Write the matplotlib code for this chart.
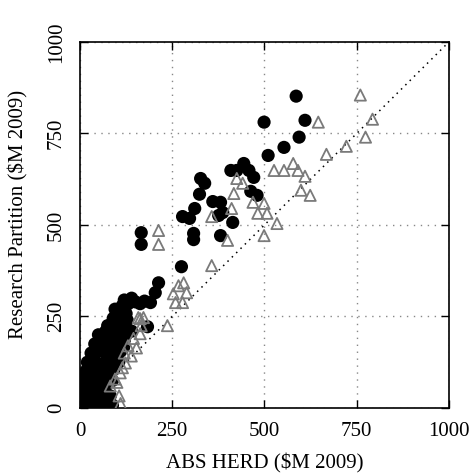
import matplotlib.pyplot as plt

plt.rcParams['font.family'] = ['Liberation Serif', 'DejaVu Serif']

# black circles: research partition above HERD
herd_a = [586, 610, 499, 594, 553, 510, 444, 409, 425, 458, 471, 327, 338, 324,
          360, 381, 311, 387, 376, 463, 480, 414, 278, 297, 308, 308, 381, 275,
          213, 166, 166, 183, 131, 150, 163, 191, 204, 120, 140, 175,
          0, 10, 25, 40, 55, 65, 20, 5, 0, 15, 30, 45, 60, 68, 82, 10, 35, 55,
          5, 20, 40, 60, 80, 15, 35, 55, 75, 92, 20, 40, 60, 80, 100, 30, 50,
          70, 90, 110, 40, 60, 80, 100, 120, 50, 70, 90, 110, 125, 75, 95, 115,
          128, 90, 110, 125, 100,
          30, 50, 75, 88, 5, 25, 48, 70, 10, 30, 50, 70, 88, 25, 45, 65, 85,
          105, 35, 55, 75, 95, 115, 60, 80, 100, 118, 85, 105, 140, 95, 115]
rp_a = [852, 786, 781, 740, 712, 690, 668, 649, 649, 649, 630, 627, 614, 584,
        564, 562, 545, 534, 526, 592, 581, 507, 523, 518, 477, 460, 471, 386,
        342, 479, 447, 222, 285, 290, 285, 288, 315, 295, 300, 292,
        0, 5, 0, 5, 10, 20, 15, 25, 40, 35, 45, 30, 40, 38, 33, 60, 60, 55,
        80, 75, 85, 80, 90, 100, 105, 100, 110, 105, 125, 130, 120, 135, 140,
        150, 155, 150, 160, 155, 175, 185, 180, 190, 185, 200, 210, 205, 210,
        200, 225, 230, 225, 240, 245, 250, 258, 265,
        20, 22, 18, 8, 50, 50, 45, 60, 65, 90, 70, 95, 75, 110, 115, 120, 115,
        125, 140, 165, 140, 170, 170, 195, 195, 175, 165, 215, 218, 210, 270, 280]

# grey triangles: second partition
herd_b = [760, 793, 774, 722, 668, 646, 610, 624, 599, 578, 526, 553, 591, 425,
          441, 417, 411, 357, 469, 499, 482, 507, 534, 499, 213, 213, 357, 400,
          259, 278, 267, 281, 253, 289, 237, 163, 172, 158, 166, 163, 153, 139,
          123, 109, 95, 82, 106, 110, 120, 130, 145, 100, 115]
rp_b = [855, 789, 740, 715, 693, 781, 633, 581, 595, 668, 649, 649, 649, 627,
        614, 586, 545, 523, 562, 559, 532, 532, 504, 471, 485, 447, 389, 458,
        288, 288, 334, 342, 312, 315, 225, 244, 247, 247, 225, 203, 164, 142,
        123, 96, 79, 60, 33, 12, 150, 170, 190, 70, 110]

ticks = [0, 250, 500, 750, 1000]

fig = plt.figure(figsize=(4.72, 4.76), dpi=100)
ax = fig.add_axes([0.1695, 0.1429, 0.7815, 0.7689])

ax.plot([0, 1000], [0, 1000], color='black', linestyle=(0, (1, 3)), linewidth=1.1, zorder=2)
ax.scatter(herd_a, rp_a, s=90, color='black', edgecolors='none', zorder=3)
ax.scatter(herd_b, rp_b, s=65, marker='^', facecolors='none', edgecolors='#7a7a7a',
           linewidths=1.3, zorder=4)

ax.set_xlim(0, 1000)
ax.set_ylim(0, 1000)
ax.set_xticks(ticks)
ax.set_yticks(ticks)
ax.grid(True, color='#888888', linestyle=(0, (1, 4)), linewidth=1)
ax.set_axisbelow(True)
ax.tick_params(direction='in', length=6, width=1, top=True, right=True, labelsize=15, pad=10)
for lab in ax.get_yticklabels():
    lab.set_rotation(90)
    lab.set_va('center')
for sp in ax.spines.values():
    sp.set_linewidth(1.2)

ax.set_xlabel('ABS HERD ($M 2009)', fontsize=15, labelpad=9)
ax.set_ylabel('Research Partition ($M 2009)', fontsize=15)
ax.yaxis.set_label_coords(-0.14, 0.53)

fig.savefig('out.png', dpi=100)
